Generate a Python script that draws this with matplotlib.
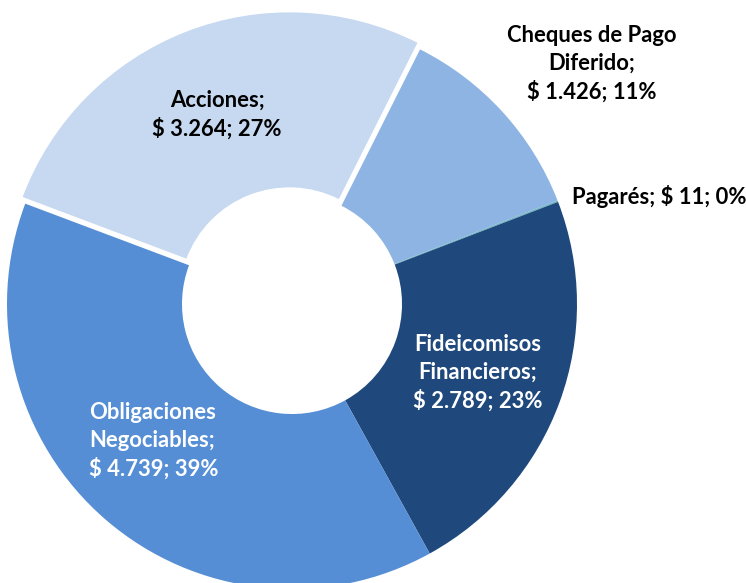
import matplotlib
matplotlib.use("Agg")
import matplotlib.pyplot as plt

# datos (en millones de $), orden horario desde arriba a la derecha
categorias = ["Cheques de Pago\nDiferido", "Pagarés", "Fideicomisos\nFinancieros",
              "Obligaciones\nNegociables", "Acciones"]
montos = [1426, 11, 2789, 4739, 3264]
porcentajes = [11, 0, 23, 39, 27]

colores = ["#8EB4E3", "#6FB7C2", "#1F497D", "#558ED5", "#C6D9F1"]
color_texto = ["black", "black", "white", "white", "black"]
separar = [0, 0, 0, 0, 0.025]

# posicion de etiquetas en pixeles (x, y desde arriba) y alineacion
pos_etiquetas = [(592, 64), (572, 197), (478, 373), (89, 441), (217, 115)]
alineacion = ["center", "left", "center", "left", "center"]

W, H = 746, 583
cx, cy, r = 292, 304, 285

fig = plt.figure(figsize=(W / 100, H / 100), dpi=100)
ax = fig.add_axes([0, 0, 1, 1])
ax.pie(montos, colors=colores, startangle=63.3, counterclock=False,
       explode=separar, radius=1,
       wedgeprops=dict(width=0.614, linewidth=0))
ax.set_xlim(-cx / r, (W - cx) / r)
ax.set_ylim(-(H - cy) / r, cy / r)
ax.set_aspect("auto")
ax.axis("off")

def miles(v):
    return f"{v:,}".replace(",", ".")

for i, cat in enumerate(categorias):
    if cat == "Pagarés":
        txt = f"{cat}; $ {miles(montos[i])}; {porcentajes[i]}%"
    else:
        txt = f"{cat};\n$ {miles(montos[i])}; {porcentajes[i]}%"
    px, py = pos_etiquetas[i]
    fig.text(px / W, 1 - py / H, txt, ha=alineacion[i], va="center",
             multialignment=alineacion[i], color=color_texto[i],
             fontsize=15.8, fontweight="bold", family="Lato", linespacing=1.38)

fig.savefig("out.png", dpi=100)
